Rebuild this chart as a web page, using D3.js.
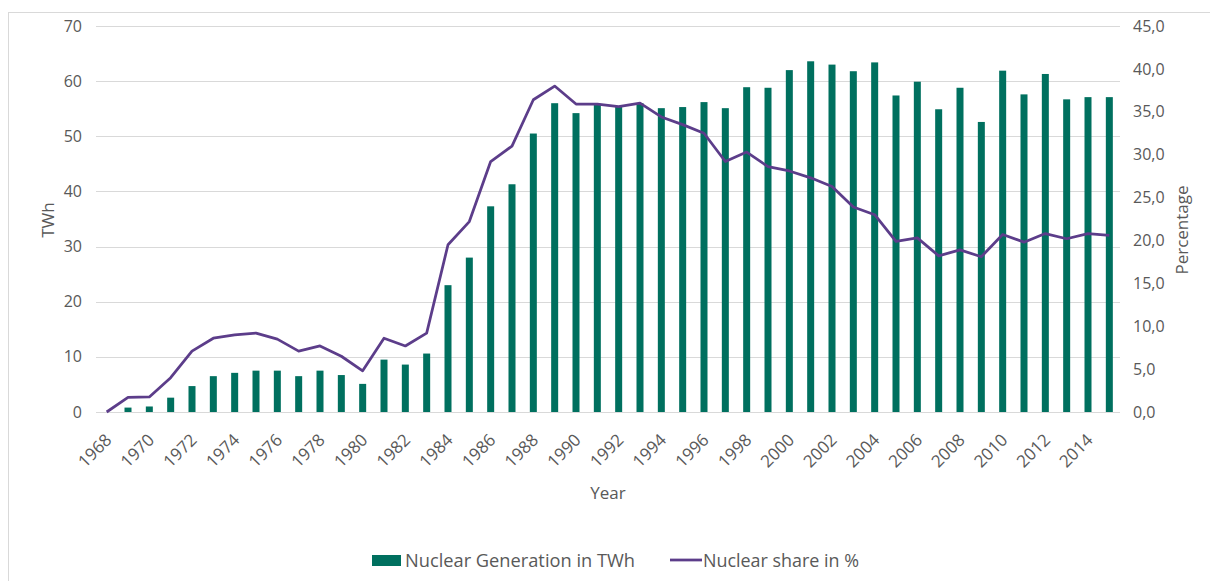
<!DOCTYPE html>
<html>
<head>
<meta charset="utf-8">
<script src="https://cdn.jsdelivr.net/npm/d3@7"></script>
<style>
  html, body { margin: 0; padding: 0; background: #fff; }
  svg { display: block; font-family: "Open Sans", sans-serif; }
</style>
</head>
<body>
<svg id="chart" width="1210" height="581"></svg>
<script>
const years = d3.range(1968, 2016);
const generationTWh = [
  0, 0.8, 1.0, 2.6, 4.7, 6.5, 7.1, 7.5, 7.5, 6.5, 7.5, 6.7, 5.1, 9.5, 8.6, 10.6,
  23.0, 28.0, 37.3, 41.3, 50.5, 56.0, 54.2, 55.7, 55.4, 56.0, 55.1, 55.3, 56.2, 55.1,
  58.9, 58.8, 62.0, 63.6, 63.0, 61.8, 63.4, 57.4, 59.9, 54.9, 58.8, 52.6, 61.9, 57.6,
  61.3, 56.7, 57.1, 57.1
];
const sharePct = [
  0, 1.7, 1.75, 4.0, 7.1, 8.6, 9.0, 9.2, 8.5, 7.1, 7.7, 6.5, 4.8, 8.6, 7.7, 9.2,
  19.5, 22.2, 29.2, 31.0, 36.4, 38.0, 35.9, 35.9, 35.6, 36.0, 34.4, 33.5, 32.5, 29.2,
  30.3, 28.6, 28.1, 27.3, 26.3, 23.9, 23.0, 19.9, 20.3, 18.2, 18.9, 18.1, 20.7, 19.8,
  20.8, 20.2, 20.8, 20.6
];
const leftTicks = [0, 10, 20, 30, 40, 50, 60, 70];
const rightTicks = [0, 5, 10, 15, 20, 25, 30, 35, 40, 45];
const xTickYears = d3.range(1968, 2015, 2);
const seriesNames = ["Nuclear Generation in TWh", "Nuclear share in %"];
const axisTitles = { x: "Year", yLeft: "TWh", yRight: "Percentage" };

const barColor = "#00705f";
const lineColor = "#5c3d8a";
const textColor = "#595959";
const gridColor = "#d9d9d9";

const svg = d3.select("#chart");
const m = { left: 96, right: 1120, top: 26, bottom: 412 };

// chart frame
svg.append("rect")
  .attr("x", 8.5).attr("y", 12.5)
  .attr("width", 1300).attr("height", 700)
  .attr("fill", "none").attr("stroke", "#d9d9d9").attr("stroke-width", 1);

const x = d3.scaleBand().domain(years).range([m.left, m.right]).paddingInner(0).paddingOuter(0);
const yL = d3.scaleLinear().domain([0, 70]).range([m.bottom, m.top]);
const yR = d3.scaleLinear().domain([0, 45]).range([m.bottom, m.top]);

// gridlines
svg.append("g")
  .selectAll("line").data(leftTicks).join("line")
  .attr("x1", m.left).attr("x2", m.right)
  .attr("y1", d => Math.round(yL(d)) + 0.5).attr("y2", d => Math.round(yL(d)) + 0.5)
  .attr("stroke", gridColor).attr("stroke-width", 1);

// left axis
const leftAxis = svg.append("g")
  .attr("transform", `translate(${m.left - 14},0)`)
  .call(d3.axisLeft(yL).tickValues(leftTicks).tickSize(0).tickPadding(0));
leftAxis.select(".domain").remove();
leftAxis.selectAll("text").attr("fill", textColor).style("font-size", "16px").style("font-family", "Open Sans");

// right axis
const rightAxis = svg.append("g")
  .attr("transform", `translate(${m.right + 13},0)`)
  .call(d3.axisRight(yR).tickValues(rightTicks).tickSize(0).tickPadding(0)
    .tickFormat(d => d3.format(".1f")(d).replace(".", ",")));
rightAxis.select(".domain").remove();
rightAxis.selectAll("text").attr("fill", textColor).style("font-size", "16px").style("font-family", "Open Sans");

// bars
const barW = 7;
svg.append("g")
  .selectAll("rect").data(years.map((yr, i) => ({ yr, v: generationTWh[i] })).filter(d => d.v > 0))
  .join("rect")
  .attr("x", d => x(d.yr) + x.bandwidth() / 2 - barW / 2)
  .attr("width", barW)
  .attr("y", d => yL(d.v))
  .attr("height", d => yL(0) - yL(d.v))
  .attr("fill", barColor);

// line
const line = d3.line()
  .x((d, i) => x(years[i]) + x.bandwidth() / 2)
  .y(d => yR(d));
svg.append("path")
  .datum(sharePct)
  .attr("d", line)
  .attr("fill", "none")
  .attr("stroke", lineColor)
  .attr("stroke-width", 2.75)
  .attr("stroke-linejoin", "round");

// x axis labels
const xAxis = svg.append("g")
  .attr("transform", `translate(0,${m.bottom})`)
  .call(d3.axisBottom(x).tickValues(xTickYears).tickSize(0).tickPadding(0));
xAxis.select(".domain").remove();
xAxis.selectAll("text")
  .attr("fill", textColor)
  .style("font-size", "17px").style("font-family", "Open Sans")
  .attr("text-anchor", "end")
  .attr("dy", "0")
  .attr("y", 0)
  .attr("transform", "translate(6,29) rotate(-45)");

// axis titles
svg.append("text")
  .attr("x", 608).attr("y", 499)
  .attr("text-anchor", "middle")
  .attr("fill", textColor).style("font-size", "17px")
  .text(axisTitles.x);
svg.append("text")
  .attr("transform", "translate(54,220) rotate(-90)")
  .attr("text-anchor", "middle")
  .attr("fill", textColor).style("font-size", "17px")
  .text(axisTitles.yLeft);
svg.append("text")
  .attr("transform", "translate(1188,230) rotate(-90)")
  .attr("text-anchor", "middle")
  .attr("fill", textColor).style("font-size", "17px")
  .text(axisTitles.yRight);

// legend
const lg = svg.append("g");
lg.append("rect").attr("x", 372).attr("y", 555).attr("width", 29).attr("height", 11).attr("fill", barColor);
lg.append("text").attr("x", 405).attr("y", 567).attr("fill", textColor).style("font-size", "18px")
  .attr("textLength", 230).attr("lengthAdjust", "spacingAndGlyphs").text(seriesNames[0]);
lg.append("line").attr("x1", 670).attr("x2", 702).attr("y1", 560).attr("y2", 560)
  .attr("stroke", lineColor).attr("stroke-width", 2.75);
lg.append("text").attr("x", 703).attr("y", 567).attr("fill", textColor).style("font-size", "18px")
  .attr("textLength", 156).attr("lengthAdjust", "spacingAndGlyphs").text(seriesNames[1]);
</script>
</body>
</html>
